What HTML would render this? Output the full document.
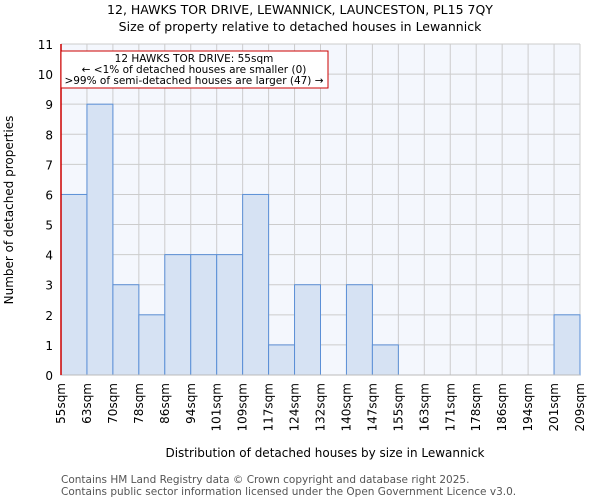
<!DOCTYPE html>
<html><head><meta charset="utf-8"><style>
body{margin:0;background:#fff;font-family:"DejaVu Sans","Liberation Sans",sans-serif}
</style></head><body>
<svg width="600" height="500" xmlns="http://www.w3.org/2000/svg" font-family="DejaVu Sans, Liberation Sans, sans-serif">
<text x="300" y="14" text-anchor="middle" font-size="12.5">12, HAWKS TOR DRIVE, LEWANNICK, LAUNCESTON, PL15 7QY</text>
<text x="300" y="31" text-anchor="middle" font-size="12.5">Size of property relative to detached houses in Lewannick</text>
<rect x="61" y="44" width="519" height="331" fill="#f4f7fd"/>
<g id="grid"></g><g id="bars"></g><g id="axes"></g>
<text transform="translate(13,210) rotate(-90)" text-anchor="middle" font-size="12">Number of detached properties</text>
<text x="325" y="457" text-anchor="middle" font-size="12">Distribution of detached houses by size in Lewannick</text>
<text x="61" y="483" font-size="10.5" fill="#555">Contains HM Land Registry data © Crown copyright and database right 2025.</text>
<text x="61" y="495" font-size="10.5" fill="#555">Contains public sector information licensed under the Open Government Licence v3.0.</text>
<line x1="61" y1="44" x2="61" y2="375" stroke="#cc0000" stroke-width="1.5"/>
<rect x="61" y="51" width="267" height="37" fill="#fff" stroke="#cc0000"/>
<text x="194" y="62" text-anchor="middle" font-size="10.5">12 HAWKS TOR DRIVE: 55sqm</text>
<text x="194" y="73" text-anchor="middle" font-size="10.5">← &lt;1% of detached houses are smaller (0)</text>
<text x="194" y="84" text-anchor="middle" font-size="10.5">&gt;99% of semi-detached houses are larger (47) →</text>
</svg>
<script>
const categories=["55sqm","63sqm","70sqm","78sqm","86sqm","94sqm","101sqm","109sqm","117sqm","124sqm","132sqm","140sqm","147sqm","155sqm","163sqm","171sqm","178sqm","186sqm","194sqm","201sqm","209sqm"];
const counts=[6,9,3,2,4,4,4,6,1,3,0,3,1,0,0,0,0,0,0,2];
const yTicks=[0,1,2,3,4,5,6,7,8,9,10,11];
const NS="http://www.w3.org/2000/svg";
const L=61,R=580,T=44,B=375,yMax=11,n=counts.length;
const bw=(R-L)/n;
const xs=i=>L+i*bw, ys=v=>B-(v/yMax)*(B-T);
function mk(t,a,p){const e=document.createElementNS(NS,t);for(const k in a)e.setAttribute(k,a[k]);p.appendChild(e);return e;}
const g=document.getElementById('grid'),b=document.getElementById('bars'),ax=document.getElementById('axes');
yTicks.forEach(v=>{const l=mk('line',{x1:L,x2:R,y1:ys(v),y2:ys(v),stroke:'#cccccc'},g);


const t=mk('text',{x:L-8,y:ys(v)+5,'text-anchor':'end','font-size':'12'},ax);t.textContent=v;

});
categories.forEach((c,i)=>{const x=xs(i);const l=mk('line',{x1:x,x2:x,y1:T,y2:B,stroke:'#cccccc'},g);


const t=mk('text',{transform:`translate(${x+4},${B+8}) rotate(-90)`,'text-anchor':'end','font-size':'12'},ax);t.textContent=c;

});
counts.forEach((v,i)=>{if(v<=0)return;const r=mk('rect',{x:xs(i),y:ys(v),width:bw,height:B-ys(v),fill:'#d6e2f3',stroke:'#5b8fd6','stroke-width':1},b);

});
const xa=mk('line',{x1:L,x2:R,y1:B,y2:B,stroke:'#bbb'},ax);


</script>
</body></html>
